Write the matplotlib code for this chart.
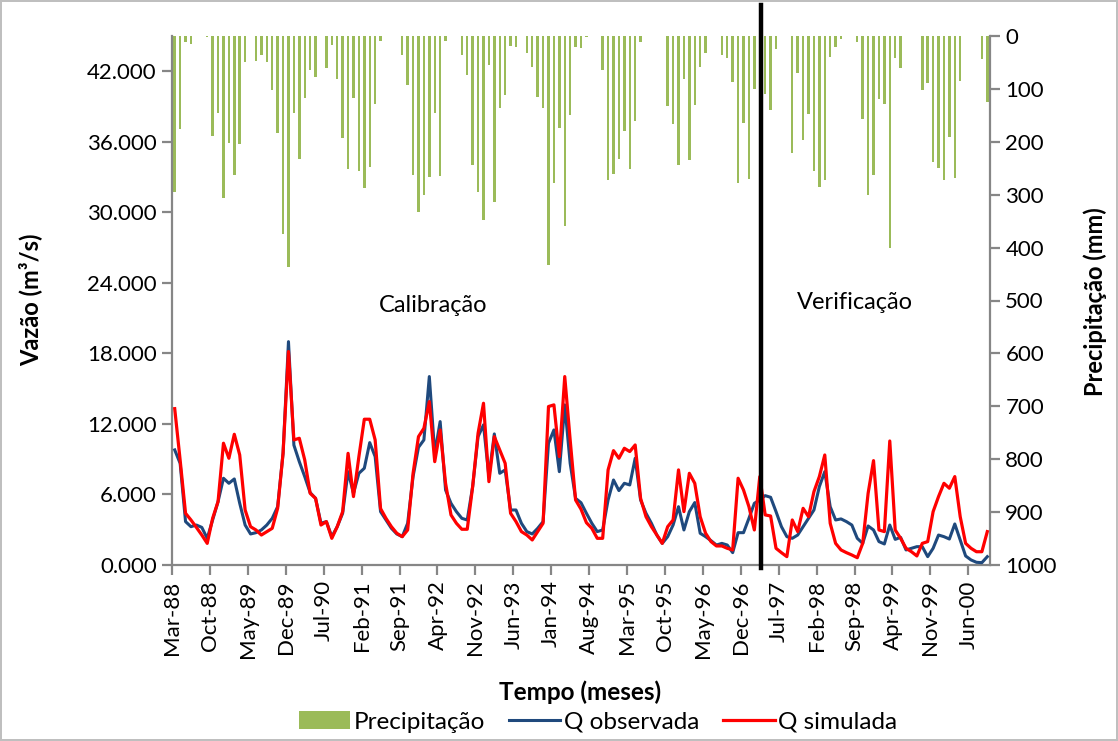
import numpy as np
import matplotlib.pyplot as plt
from matplotlib.patches import Patch
from matplotlib.lines import Line2D

plt.rcParams.update(
    {
        "font.family": ["Lato", "DejaVu Sans"],
        "axes.linewidth": 1.6,
        "axes.edgecolor": "#868686",
    }
)

# monthly series, Mar-88 .. Sep-00
tick_labels = [
    "Mar-88", "Oct-88", "May-89", "Dec-89", "Jul-90", "Feb-91", "Sep-91", "Apr-92",
    "Nov-92", "Jun-93", "Jan-94", "Aug-94", "Mar-95", "Oct-95", "May-96", "Dec-96",
    "Jul-97", "Feb-98", "Sep-98", "Apr-99", "Nov-99", "Jun-00",
]

precip_mm = [
    294, 175, 12, 16, 0, 0, 1, 189, 146, 306, 202, 263, 205, 50, 0, 47, 35, 50, 103, 183,
    374, 437, 146, 232, 118, 65, 78, 0, 61, 17, 82, 192, 251, 118, 255, 288, 248, 128, 9, 0,
    0, 0, 35, 93, 263, 333, 301, 266, 146, 265, 9, 0, 0, 35, 74, 243, 294, 347, 55, 314,
    137, 112, 18, 21, 0, 32, 58, 116, 137, 432, 277, 174, 360, 150, 21, 23, 1, 0, 0, 64,
    273, 260, 232, 179, 251, 161, 12, 0, 0, 0, 0, 132, 166, 244, 81, 235, 130, 58, 33, 0,
    0, 35, 42, 87, 278, 165, 271, 100, 100, 110, 139, 25, 0, 0, 222, 69, 197, 147, 256, 285,
    272, 39, 21, 5, 0, 0, 12, 157, 301, 262, 120, 128, 400, 41, 60, 0, 0, 0, 103, 88,
    239, 249, 273, 191, 268, 86, 0, 0, 0, 43, 124,
]

q_obs = [  # thousands of m3/s
    9.79, 8.65, 3.69, 3.26, 3.40, 3.20, 2.27, 3.83, 5.39, 7.38, 6.95, 7.32, 5.25, 3.40, 2.64,
    2.75, 2.98, 3.40, 3.97, 4.96, 9.50, 19.0, 10.2, 8.79, 7.52, 6.16, 5.67, 3.55, 3.69, 2.41,
    3.26, 4.40, 7.94, 6.10, 7.80, 8.23, 10.41, 9.22, 4.54, 3.83, 3.12, 2.64, 2.41, 3.55, 7.52,
    10.01, 10.64, 16.03, 9.50, 12.2, 6.38, 5.25, 4.54, 3.97, 3.83, 6.67, 10.92, 11.92, 7.52, 11.15,
    7.80, 8.09, 4.68, 4.68, 3.55, 2.84, 2.64, 3.12, 3.69, 10.36, 11.49, 7.94, 13.62, 8.65, 5.67,
    5.30, 4.40, 3.55, 2.84, 2.98, 5.53, 7.23, 6.33, 6.95, 6.81, 9.08, 5.53, 4.40, 3.55, 2.55,
    1.84, 2.41, 3.40, 4.96, 2.98, 4.54, 5.31, 2.70, 2.41, 2.07, 1.70, 1.84, 1.70, 1.05, 2.75,
    2.75, 3.97, 5.25, 5.53, 5.90, 5.76, 4.54, 3.26, 2.41, 2.27, 2.55, 3.26, 3.97, 4.68, 6.67,
    7.94, 4.96, 3.83, 3.92, 3.69, 3.40, 2.27, 1.84, 3.32, 2.98, 1.99, 1.79, 3.40, 2.18, 2.35,
    1.28, 1.42, 1.56, 1.56, 0.71, 1.42, 2.55, 2.41, 2.21, 3.49, 2.13, 0.77, 0.43, 0.23, 0.20,
    0.71,
]

q_sim = [
    13.3, 8.94, 4.40, 3.83, 3.20, 2.55, 1.84, 3.97, 5.39, 10.36, 9.08, 11.12, 9.36, 4.68, 3.26,
    2.98, 2.55, 2.84, 3.12, 4.82, 9.50, 18.16, 10.64, 10.78, 8.94, 6.10, 5.67, 3.40, 3.69, 2.27,
    3.26, 4.54, 9.50, 5.82, 9.22, 12.40, 12.40, 10.64, 4.80, 3.97, 3.26, 2.70, 2.41, 2.98, 7.80,
    10.92, 11.63, 13.90, 8.79, 11.49, 6.95, 4.26, 3.55, 3.04, 3.04, 6.67, 11.21, 13.76, 7.09, 10.92,
    9.79, 8.65, 4.40, 3.69, 2.84, 2.55, 2.13, 2.84, 3.55, 13.48, 13.62, 9.22, 16.03, 10.64, 5.53,
    4.75, 3.60, 3.12, 2.27, 2.27, 8.09, 9.73, 9.08, 9.93, 9.65, 10.21, 5.67, 4.11, 3.26, 2.55,
    1.84, 3.26, 3.83, 8.09, 4.54, 7.80, 6.95, 4.11, 2.70, 1.99, 1.62, 1.62, 1.42, 1.28, 7.38,
    6.38, 4.96, 2.98, 7.52, 4.26, 4.17, 1.42, 1.05, 0.71, 3.83, 2.84, 4.82, 4.11, 6.24, 7.52,
    9.36, 3.55, 1.84, 1.28, 1.05, 0.85, 0.62, 1.84, 6.10, 8.88, 2.98, 2.84, 10.55, 2.98, 2.27,
    1.42, 1.13, 0.77, 1.84, 1.99, 4.54, 5.82, 6.95, 6.53, 7.52, 4.11, 1.84, 1.42, 1.13, 1.13,
    2.84,
]

split_month = 108.2  # calibration / verification boundary

GREEN = "#9BBB59"
BLUE = "#1F497D"
RED = "#FF0000"


def main():
    n = len(q_obs)
    x = np.arange(n)
    obs = np.array(q_obs) * 1000
    sim = np.array(q_sim) * 1000

    fig = plt.figure(figsize=(11.18, 7.41), dpi=100)
    fig.patch.set_edgecolor("#BFBFBF")
    fig.patch.set_linewidth(1.5)
    ax = fig.add_axes([172 / 1118, 1 - 565 / 741, (990 - 172) / 1118, (565 - 36) / 741])
    ax2 = ax.twinx()

    ax2.bar(x, precip_mm, width=0.45, color=GREEN, zorder=1)
    ax2.set_ylim(1000, 0)
    ax2.set_yticks(np.arange(0, 1001, 100))

    ax.set_zorder(ax2.get_zorder() + 1)
    ax.patch.set_visible(False)
    ax.plot(x, obs, color=BLUE, lw=2.2, zorder=3)
    ax.plot(x, sim, color=RED, lw=2.3, zorder=4)
    ax.set_ylim(0, 45000)
    ax.set_yticks(np.arange(0, 42001, 6000))
    ax.set_yticklabels([f"{v / 1000:.3f}" for v in np.arange(0, 42001, 6000)])
    ax.set_xlim(-0.5, n - 0.5)
    ax.set_xticks(np.arange(0, 148, 7) - 0.5)
    ax.set_xticklabels(tick_labels, rotation=90)

    for a in (ax, ax2):
        a.tick_params(length=7, width=1.6, color="#868686", labelsize=16, pad=4)
        a.spines["top"].set_visible(False)
    ax.spines["right"].set_visible(False)
    ax2.spines["left"].set_visible(False)
    ax2.spines["bottom"].set_visible(False)

    ax.axvline(split_month, ymin=-0.006, ymax=1.059, color="black", lw=3.2,
               clip_on=False, zorder=6)

    fig.text(433 / 1118, 1 - 306 / 741, "Calibração", fontsize=17, ha="center", va="center")
    fig.text(855 / 1118, 1 - 302 / 741, "Verificação", fontsize=17, ha="center", va="center")

    fig.text(30 / 1118, 1 - 300 / 741, "Vazão (m³/s)", fontsize=17, fontweight="bold",
             rotation=90, ha="center", va="center")
    fig.text(1095 / 1118, 1 - 302 / 741, "Precipitação (mm)", fontsize=17, fontweight="bold",
             rotation=90, ha="center", va="center")
    fig.text(580 / 1118, 1 - 692 / 741, "Tempo (meses)", fontsize=17.5, fontweight="bold",
             ha="center", va="center")

    handles = [
        Patch(facecolor=GREEN, edgecolor="none"),
        Line2D([], [], color=BLUE, lw=2.2),
        Line2D([], [], color=RED, lw=2.3),
    ]
    fig.legend(handles, ["Precipitação", "Q observada", "Q simulada"],
               loc="center", bbox_to_anchor=(598 / 1118, 1 - 722 / 741), ncol=3,
               frameon=False, fontsize=17.5, handlelength=2.1, handleheight=0.75,
               handletextpad=0.15, columnspacing=1.0)

    fig.savefig("out.png", dpi=100)
    plt.close(fig)


if __name__ == "__main__":
    main()
